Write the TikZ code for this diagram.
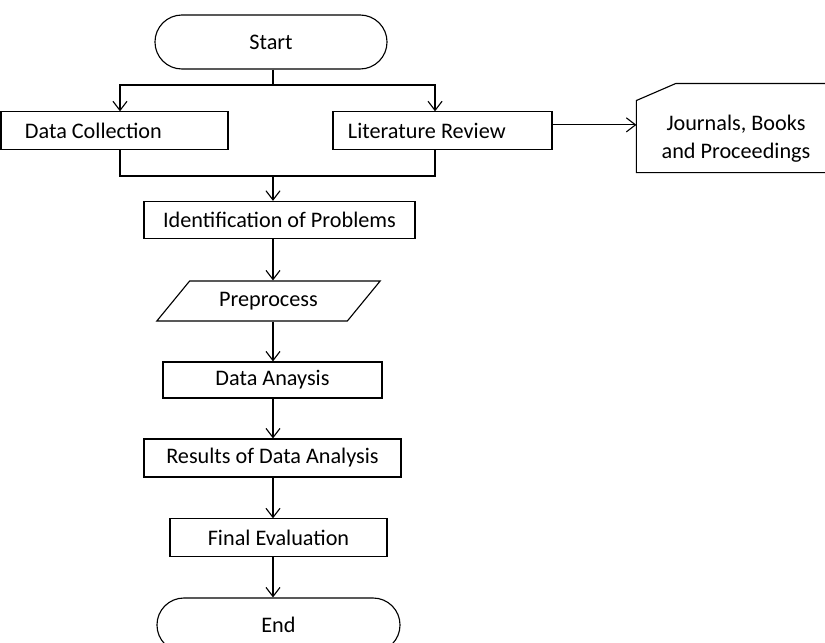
\documentclass[tikz,border=0pt]{standalone}
\usepackage{fontspec}
\setmainfont{Carlito}
\usetikzlibrary{arrows.meta,shapes.misc,shapes.geometric}
\begin{document}
\begin{tikzpicture}[x=0.025cm,y=-0.025cm,line width=0.8pt,font=\fontsize{15.8}{20}\selectfont,
	box/.style={draw,rectangle,minimum height=0.93cm,inner sep=0pt},
	term/.style={draw,rounded rectangle,minimum height=1.35cm,inner sep=0pt},
	io/.style={draw,trapezium,trapezium left angle=41,trapezium right angle=139,trapezium stretches=true,minimum width=5.625cm,minimum height=1cm,inner sep=0pt},
	arr/.style={-{Straight Barb[length=6.5pt,width=10pt]}}]
	\useasboundingbox (0,0) rectangle (825,643);
	\node[term,minimum width=5.8cm] (start) at (271,42) {Start};
	\node[box,text width=4.475cm,align=flush left,inner xsep=0.6cm] (dc) at (114.5,130.5) {Data Collection};
	\node[box,text width=4.725cm,align=flush left,inner xsep=0.375cm] (lr) at (442.5,130.5) {Literature Review};
	\node[minimum width=4.95cm,minimum height=1.65cm,inner sep=0pt,align=center] (jbp) at (736,139) {Journals, Books\\and Proceedings};
	\draw (jbp.south west) -- ([yshift=3.5pt]jbp.north west) -- ([xshift=28pt,yshift=15.6pt]jbp.north west) -- ([yshift=15.6pt]jbp.north east) -- (jbp.south east) -- cycle;
	\node[box,minimum width=6.775cm] (idp) at (279.5,220) {Identification of Problems};
	\node[io] (pre) at (268.5,301) {Preprocess};
	\node[box,minimum width=5.475cm,minimum height=0.9cm] (da) at (272.5,380) {Data Anaysis};
	\node[box,minimum width=6.425cm,minimum height=0.95cm] (res) at (272.5,458) {Results of Data Analysis};
	\node[box,minimum width=5.425cm] (fe) at (278.5,537.5) {Final Evaluation};
	\node[term,minimum width=6.075cm] (stop) at (278.5,625) {End};
	% branches
	\coordinate (fork) at (273,85);
	\coordinate (join) at (273,176);
	\draw (start.south -| fork) -- (fork);
	\draw[arr] (fork) -| ([xshift=3.9pt]dc.north);
	\draw[arr] (fork) -| ([xshift=-5.3pt]lr.north);
	\draw ([xshift=3.9pt]dc.south) |- (join);
	\draw ([xshift=-5.3pt]lr.south) |- (join);
	\draw[arr] (join) -- (join |- idp.north);
	\draw[arr] ([yshift=4pt]lr.east) -- ([yshift=4pt]lr.east -| jbp.west);
	% main column
	\foreach \a/\b in {idp/pre,pre/da,da/res,res/fe,fe/stop} \draw[arr] (\a.south -| join) -- (\b.north -| join);
\end{tikzpicture}
\end{document}
